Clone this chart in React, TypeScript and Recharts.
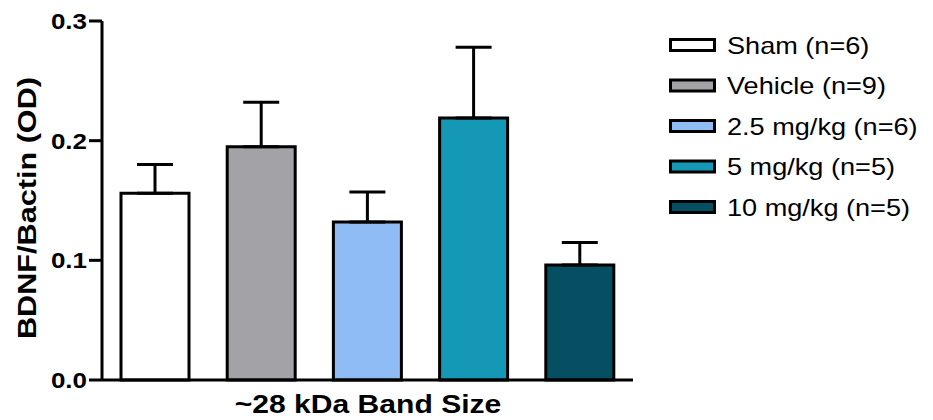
import React from "react";
import { BarChart, Bar, XAxis, YAxis, Cell, ErrorBar } from "recharts";

const categories = ["Sham (n=6)", "Vehicle (n=9)", "2.5 mg/kg (n=6)", "5 mg/kg (n=5)", "10 mg/kg (n=5)"];
const means = [0.156, 0.195, 0.132, 0.219, 0.096];
const sems = [0.024, 0.037, 0.025, 0.059, 0.019];
const colors = ["#ffffff", "#a3a2a7", "#8fbcf4", "#1498b5", "#064e62"];
const yTicks = [0, 0.1, 0.2, 0.3];
const yTitle = "BDNF/Bactin (OD)";
const xTitle = "~28 kDa Band Size";

const data = categories.map((c, i) => ({ name: c, value: means[i], err: [0, sems[i]] }));

const FONT = "'Liberation Sans', Arial, Helvetica, sans-serif";
const SX = 1.18;
const LSX = 1.13;

const YTick = (props: any) => {
  const { x, y, payload } = props;
  return (
    <g transform={`translate(${x},${y}) scale(${SX},1)`}>
      <text x={0} y={0} dy="0.36em" textAnchor="end" fontFamily={FONT} fontWeight="bold" fontSize={22} fill="#000">
        {payload.value.toFixed(1)}
      </text>
    </g>
  );
};

const LegendBlock = () => (
  <g transform="translate(650,20)">
    {categories.map((c, i) => {
      const cy = 17 + i * 40.5;
      return (
        <g key={c}>
          <rect x={12.5} y={cy - 5.5} width={44} height={11} fill={colors[i]} stroke="#000" strokeWidth={3} />
          <g transform={`translate(69,${cy + 8.6}) scale(${LSX},1)`}>
            <text x={0} y={0} fontFamily={FONT} fontSize={24} fill="#000">{c}</text>
          </g>
        </g>
      );
    })}
  </g>
);

export default function App() {
  return (
    <div style={{ position: "relative", width: 925, height: 412 }}>
      <BarChart width={925} height={412} data={data} margin={{ top: 13, right: 300, left: 0, bottom: 0 }}>
        <XAxis
          dataKey="name"
          tick={false}
          tickLine={false}
          height={40}
          axisLine={{ stroke: "#000", strokeWidth: 3 }}
        />
        <YAxis
          domain={[0, 0.3]}
          ticks={yTicks}
          width={94}
          tick={<YTick />}
          tickSize={13}
          tickMargin={2}
          tickLine={{ stroke: "#000", strokeWidth: 3 }}
          axisLine={{ stroke: "#000", strokeWidth: 3 }}
          interval={0}
        />
        <Bar dataKey="value" barSize={68} stroke="#000" strokeWidth={3} isAnimationActive={false}>
          {data.map((d, i) => (
            <Cell key={d.name} fill={colors[i]} />
          ))}
          <ErrorBar dataKey="err" width={18} stroke="#000" strokeWidth={3} direction="y" />
        </Bar>
        <LegendBlock />
        <text
          transform="translate(19,200) rotate(-90)"
          textAnchor="middle"
          dominantBaseline="central"
          fontFamily={FONT}
          fontWeight="bold"
          fontSize={25}
          textLength={262}
          lengthAdjust="spacingAndGlyphs"
          fill="#000"
        >
          {yTitle}
        </text>
        <g transform={`translate(360,405) scale(${SX},1)`}>
          <text x={0} y={0} textAnchor="middle" fontFamily={FONT} fontWeight="bold" fontSize={25.5} fill="#000">
            {xTitle}
          </text>
        </g>
      </BarChart>
    </div>
  );
}
